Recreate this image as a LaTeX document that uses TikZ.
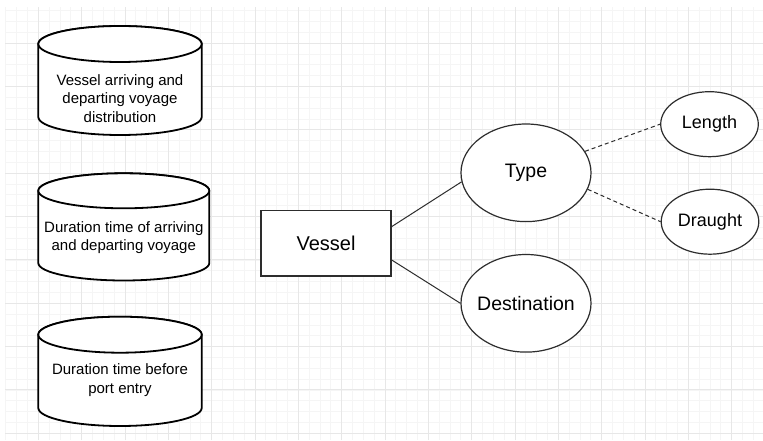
\documentclass[tikz,border=0pt]{standalone}
\usepackage{fontspec}
\setmainfont{Liberation Sans}
\usetikzlibrary{shapes.geometric,calc}

\definecolor{gridminor}{RGB}{245,245,245}
\definecolor{gridmajor}{RGB}{231,231,231}
\definecolor{edgegray}{RGB}{45,45,45}

\tikzset{
  entity/.style={draw=edgegray, line width=1.2pt, fill=white, rectangle,
    minimum width=130pt, minimum height=65.3pt, inner sep=0pt,
    font=\fontsize{20}{24}\selectfont},
  attr/.style={draw=edgegray, line width=1.2pt, fill=white, ellipse,
    inner ysep=0pt, inner xsep=-25pt},
  bigattr/.style={attr, minimum width=130pt, minimum height=97.6pt,
    font=\fontsize{19.5}{23}\selectfont},
  smallattr/.style={attr, minimum width=97.6pt, minimum height=65pt,
    font=\fontsize{18}{22}\selectfont},
  link/.style={draw=edgegray, line width=1pt},
  sublink/.style={link, dash pattern=on 4pt off 3pt},
  storetext/.style={align=center, inner sep=0pt, font=\fontsize{15}{18.5}\selectfont},
  storeline/.style={draw=black, line width=1.8pt, fill=white},
  minorline/.style={draw=gridminor, line width=1pt},
  majorline/.style={draw=gridmajor, line width=1pt},
}

% data store cylinder: name, centre x, x radius, top ellipse y, bottom arc y,
% y radius, text centre y, text
\newcommand\datastore[8]{%
  \path[storeline] ({#2-#3},#4) -- ({#2-#3},#5)
    arc[start angle=180, end angle=360, x radius=#3, y radius=#6]
    -- ({#2+#3},#4)
    arc[start angle=0, end angle=180, x radius=#3, y radius=#6] -- cycle;
  \draw[storeline] (#2,#4) ellipse[x radius=#3, y radius=#6];
  \node[storetext] (#1) at (#2,#7) {#8};
}

\begin{document}
\begin{tikzpicture}[x=1pt, y=1pt]
  \useasboundingbox[fill=white] (0,0) rectangle (763,440);

  % background grid
  \begin{scope}
    \clip (5,0) rectangle (763,432);
    \foreach \k in {0,...,70}
      \draw[minorline] ({5.833+10.8333*\k},0) -- ++(0,440);
    \foreach \k in {1,...,40}
      \draw[minorline] (0,{440-10.8333*\k}) -- ++(763,0);
    \foreach \k in {0,...,17}
      \draw[majorline] ({38.333+43.333*\k},0) -- ++(0,440);
    \foreach \k in {1,...,10}
      \draw[majorline] (0,{440-43.333*\k}) -- ++(763,0);
  \end{scope}

  % data stores
  \datastore{store1}{120}{81.7}{396}{323}{18}{341.5}{Vessel arriving and\\departing voyage\\distribution}
  \datastore{store2}{123.8}{85.5}{249.2}{177}{17.5}{202.5}{Duration time of arriving\\and departing voyage}
  \datastore{store3}{120}{81.7}{105.3}{32}{18}{60}{Duration time before\\port entry}

  % entity and attributes
  \node[entity] (vessel) at (326,196.7) {Vessel};
  \node[bigattr] (type) at (526,267.2) {Type};
  \node[bigattr] (dest) at (526,136.7) {Destination};
  \node[smallattr] (length) at (709.5,315.8) {Length};
  \node[smallattr] (draught) at (710,218.3) {Draught};

  % connectors
  \draw[link] ($(vessel.north east)!0.25!(vessel.south east)$) -- (type.188);
  \draw[link] ($(vessel.north east)!0.75!(vessel.south east)$) -- (dest.west);
  \draw[sublink] (type.20) -- (length.west);
  \draw[sublink] (type.345) -- (draught.west);
\end{tikzpicture}
\end{document}
